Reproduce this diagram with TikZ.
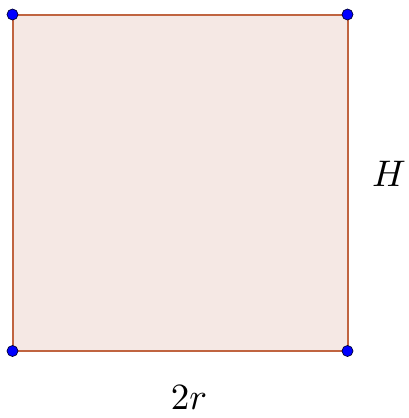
\documentclass[tikz,border=0pt]{standalone}
\usepackage{graphicx}
\begin{document}
\begin{tikzpicture}[x=1pt,y=-1pt,
  pt/.style={circle,draw=black!80!blue,fill=blue,line width=0.7pt,minimum size=11pt,inner sep=0pt},
  lbl/.style={inner sep=0pt}]
\useasboundingbox (0,0) rectangle (409,418);
\coordinate (A) at (12.5,14.5);
\coordinate (B) at (347.5,14.5);
\coordinate (C) at (347.5,351);
\coordinate (D) at (12.5,351);
\fill[fill={rgb,255:red,245;green,232;blue,228}] (A) -- (B) -- (C) -- (D) -- cycle;
\draw[draw={rgb,255:red,192;green,100;blue,64},line width=2pt] (A) -- (B) -- (C) -- (D) -- cycle;
\node[pt] (pA) at (A) {};
\node[pt] (pB) at (B) {};
\node[pt] (pC) at (C) {};
\node[pt] (pD) at (D) {};
\node[lbl] (H) at (389,174) {\scalebox{3.7}{$H$}};
\node[lbl] (R) at (189,398) {\scalebox{3.7}{$2r$}};
\end{tikzpicture}
\end{document}
